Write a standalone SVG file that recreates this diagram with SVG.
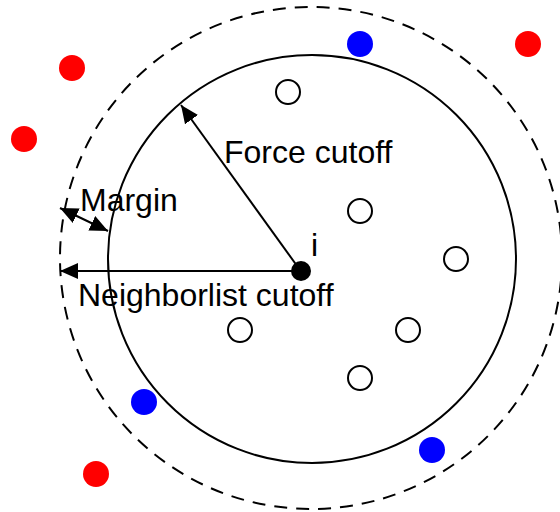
<svg xmlns="http://www.w3.org/2000/svg" width="560" height="512" viewBox="0 0 560 512">
<defs>
<style>
.t{font-family:"Liberation Sans",Arial,sans-serif;font-size:32px;fill:#000}
.red{fill:#ff0000}
.blue{fill:#0000ff}
.open{fill:#fff;stroke:#000;stroke-width:2}
.ln{stroke:#000;stroke-width:2;fill:none}
</style>
<marker id="ahb" viewBox="0 0 18 16" refX="18" refY="8" markerWidth="18" markerHeight="16" markerUnits="userSpaceOnUse" orient="auto-start-reverse">
<path d="M0,0 L18,8 L0,16 z" fill="#000"/>
</marker>
</defs>
<rect width="560" height="512" fill="#fff"/>
<g id="neighborlist-circle"><circle cx="311" cy="258" r="251" class="ln" stroke-dasharray="13,9"/></g>
<g id="force-circle"><circle cx="312" cy="259" r="204" class="ln"/></g>
<g id="connectors">
<line x1="300" y1="270" x2="181" y2="105" class="ln" marker-end="url(#ahb)"/>
<line x1="300" y1="271" x2="60" y2="271" class="ln" marker-end="url(#ahb)"/>
<line x1="60" y1="208" x2="108" y2="231" class="ln" marker-start="url(#ahb)" marker-end="url(#ahb)"/>
</g>
<g id="red-particles">
<circle cx="72" cy="68" r="13" class="red"/>
<circle cx="24" cy="139" r="13" class="red"/>
<circle cx="528" cy="44" r="13" class="red"/>
<circle cx="96" cy="474" r="13" class="red"/>
</g>
<g id="blue-particles">
<circle cx="360" cy="44" r="13" class="blue"/>
<circle cx="144" cy="402" r="13" class="blue"/>
<circle cx="432" cy="450" r="13" class="blue"/>
</g>
<g id="open-particles">
<circle cx="288" cy="92" r="12" class="open"/>
<circle cx="360" cy="211" r="12" class="open"/>
<circle cx="456" cy="259" r="12" class="open"/>
<circle cx="408" cy="330" r="12" class="open"/>
<circle cx="240" cy="330" r="12" class="open"/>
<circle cx="360" cy="378" r="12" class="open"/>
</g>
<g id="particle-i"><circle cx="301" cy="271" r="10" fill="#000"/><text x="311" y="256" class="t">i</text></g>
<g id="labels">
<text x="224" y="163" class="t">Force cutoff</text>
<text x="80" y="211" class="t">Margin</text>
<text x="78" y="306" class="t">Neighborlist cutoff</text>
</g>
</svg>
